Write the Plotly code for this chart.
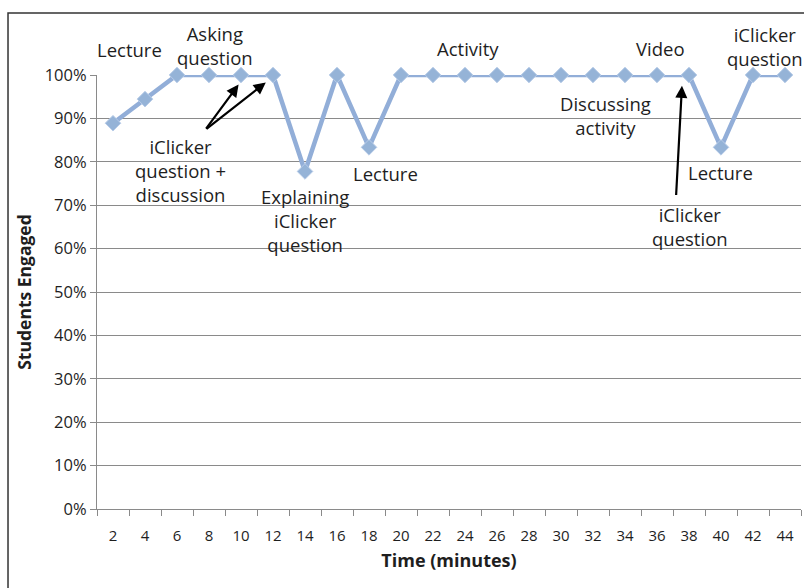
import plotly.graph_objects as go

# Time in minutes and share of students engaged at each observation
minutes = [2, 4, 6, 8, 10, 12, 14, 16, 18, 20, 22, 24, 26, 28, 30, 32, 34, 36, 38, 40, 42, 44]
engaged = [8/9, 17/18, 1, 1, 1, 1, 7/9, 1, 5/6, 1, 1, 1, 1, 1, 1, 1, 1, 1, 1, 5/6, 1, 1]

# Activity labels placed on the chart (text, x in minutes, y as fraction of plot height)
labels = [
    ("Lecture", 3.06, 1.058),
    ("Asking<br>question", 8.4, 1.067),
    ("iClicker<br>question +<br>discussion", 6.2, 0.779),
    ("Explaining<br>iClicker<br>question", 14.0, 0.664),
    ("Lecture", 19.06, 0.774),
    ("Activity", 24.2, 1.062),
    ("Discussing<br>activity", 32.75, 0.906),
    ("Video", 36.2, 1.06),
    ("iClicker<br>question", 38.06, 0.65),
    ("Lecture", 39.94, 0.776),
    ("iClicker<br>question", 42.75, 1.065),
]

# Pointer arrows: (tail x, tail y, head x, head y)
pointers = [
    (7.75, 0.873, 9.85, 0.978),
    (7.75, 0.873, 11.55, 0.983),
    (37.19, 0.72, 37.56, 0.975),
]

LINE_BLUE = "#92AED8"
TEXT = "#1E1E1E"
GRID = "#8A8A8A"
FONT = "Open Sans"

fig = go.Figure()
fig.add_trace(go.Scatter(
    x=minutes, y=engaged, mode="lines+markers",
    line=dict(color=LINE_BLUE, width=4.5),
    marker=dict(symbol="diamond", size=12, color="#95B3D7",
                line=dict(color="#B8CCE8", width=1)),
    cliponaxis=False, showlegend=False, hoverinfo="skip",
))

annotations = []
for text, x, y in labels:
    annotations.append(dict(
        x=x, y=y, xref="x", yref="paper", xanchor="center", yanchor="middle",
        text=text, showarrow=False,
        font=dict(family=FONT, size=18.5, color=TEXT), align="center",
    ))
for tx, ty, hx, hy in pointers:
    annotations.append(dict(
        x=hx, y=hy, ax=tx, ay=ty, xref="x", yref="y", axref="x", ayref="y",
        text="", showarrow=True, arrowhead=2, arrowsize=1.1, arrowwidth=2.2,
        arrowcolor="#000000", standoff=0, startstandoff=0,
    ))

fig.update_layout(
    width=804, height=588,
    margin=dict(l=97, r=3, t=75, b=79),
    paper_bgcolor="white", plot_bgcolor="white",
    font=dict(family=FONT, color=TEXT),
    annotations=annotations,
    shapes=[dict(
        type="rect", xref="paper", yref="paper",
        x0=-0.1264, x1=1.02, y0=-0.25, y1=1.1429,
        line=dict(color="#333333", width=1.5), fillcolor="rgba(0,0,0,0)",
        layer="below",
    )],
    xaxis=dict(
        range=[1, 45], tickmode="array", tickvals=minutes,
        ticktext=[str(m) for m in minutes], ticks="",
        tickfont=dict(family=FONT, size=15, color=TEXT),
        showline=True, linecolor=GRID, linewidth=1.2,
        showgrid=False, zeroline=False, ticklabelstandoff=13,
        minor=dict(tick0=1, dtick=2, ticks="outside", ticklen=6,
                   tickcolor=GRID, tickwidth=1.2, showgrid=False),
        title=dict(text="<b>Time (minutes)</b>", standoff=10,
                   font=dict(family=FONT, size=18, color=TEXT)),
    ),
    yaxis=dict(
        range=[0, 1], dtick=0.1, tickformat=".0%",
        ticks="outside", ticklen=6, tickcolor=GRID, tickwidth=1.2,
        tickfont=dict(family=FONT, size=16.5, color=TEXT),
        showline=True, linecolor=GRID, linewidth=1.2,
        showgrid=True, gridcolor=GRID, gridwidth=1.2, zeroline=False,
        title=dict(text="<b>Students Engaged</b>", standoff=8,
                   font=dict(family=FONT, size=17.5, color=TEXT)),
    ),
)

fig.write_html("out.html")
